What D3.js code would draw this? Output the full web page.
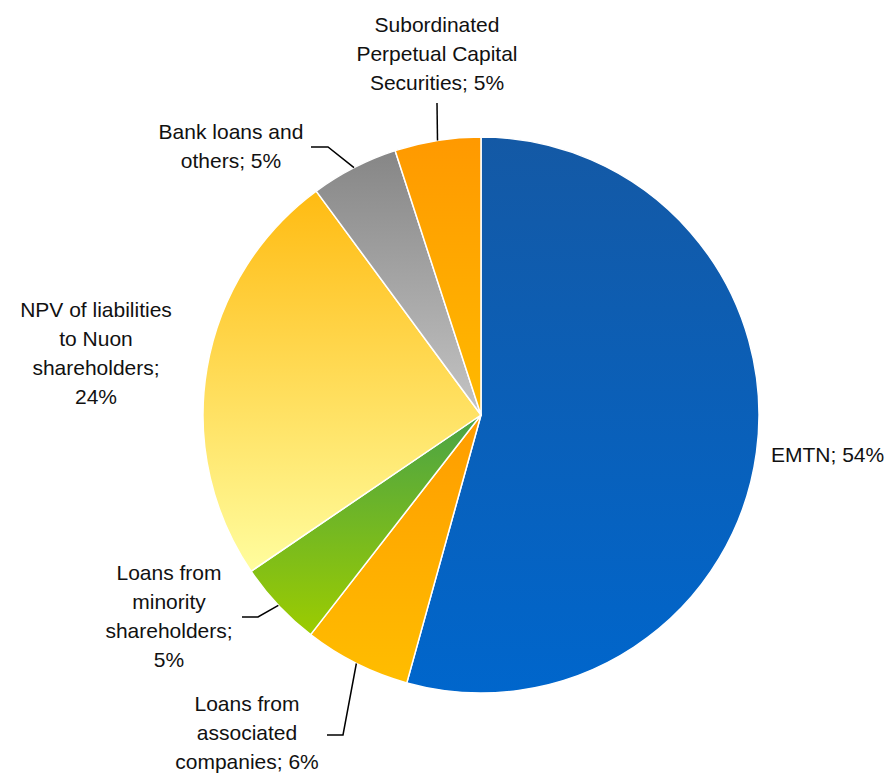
<!DOCTYPE html>
<html><head><meta charset="utf-8">
<script src="https://cdn.jsdelivr.net/npm/d3@7"></script>
<style>body{margin:0;background:#fff}</style>
</head><body>
<svg id="chart" width="889" height="773"></svg>
<script>
const categories = ["EMTN","Loans from associated companies","Loans from minority shareholders","NPV of liabilities to Nuon shareholders","Bank loans and others","Subordinated Perpetual Capital Securities"];
const values = [54.3, 6.2, 5.0, 24.4, 5.1, 5.0];
const labelLines = [
  ["EMTN; 54%"],
  ["Loans from","associated","companies; 6%"],
  ["Loans from","minority","shareholders;","5%"],
  ["NPV of liabilities","to Nuon","shareholders;","24%"],
  ["Bank loans and","others; 5%"],
  ["Subordinated","Perpetual Capital","Securities; 5%"]
];
const gradTop = ["#1459a5","#ff9c00","#4aa346","#ffbb12","#868686","#ff9900"];
const gradBot = ["#0066cc","#ffbd00","#9ccc00","#fffd9e","#c4c4c4","#ffba00"];

const svg = d3.select("#chart");
const cx = 481, cy = 415, R = 278;
const defs = svg.append("defs");
categories.forEach((c,i)=>{
  const g = defs.append("linearGradient").attr("id","g"+i)
    .attr("x1",0).attr("y1",0).attr("x2",0).attr("y2",1);
  g.append("stop").attr("offset","0%").attr("stop-color",gradTop[i]);
  g.append("stop").attr("offset","100%").attr("stop-color",gradBot[i]);
});
const pie = d3.pie().sort(null).value(d=>d)(values);
const arc = d3.arc().innerRadius(0).outerRadius(R);
const g = svg.append("g").attr("transform",`translate(${cx},${cy})`);
g.selectAll("path").data(pie).join("path")
  .attr("d",arc).attr("fill",(d,i)=>`url(#g${i})`)
  .attr("stroke","#fff").attr("stroke-width",1.5).attr("stroke-linejoin","round");

// label layout: text anchor position (relative to svg), anchor, and leader polyline (start point + elbow)
const layout = [
  {x:771, y:462, anchor:"start", leader:null},
  {x:247, y:711, anchor:"middle", leader:[[327,735],[343,735]]},
  {x:169, y:580, anchor:"middle", leader:[[242,617],[258,617]]},
  {x:96,  y:317, anchor:"middle", leader:null},
  {x:231, y:139, anchor:"middle", leader:[[311,147],[328,147]]},
  {x:437, y:32,  anchor:"middle", leader:[[437,103]]}
];
const lh = 29;
pie.forEach((d,i)=>{
  const L = layout[i];
  const t = svg.append("text").attr("x",L.x).attr("y",L.y)
    .attr("text-anchor",L.anchor)
    .attr("font-family","'Liberation Sans', Arial, Helvetica, sans-serif")
    .attr("font-size",21).attr("fill","#111");
  labelLines[i].forEach((s,k)=>{
    t.append("tspan").attr("x",L.x).attr("y",L.y+k*lh).text(s);
  });
  if (L.leader){
    const mid = (d.startAngle+d.endAngle)/2;
    const end = [cx + R*Math.sin(mid), cy - R*Math.cos(mid)];
    const pts = L.leader.concat([end]);
    svg.append("path").attr("d",d3.line()(pts))
      .attr("fill","none").attr("stroke","#000").attr("stroke-width",1.5);
  }
});
</script>
</body></html>
